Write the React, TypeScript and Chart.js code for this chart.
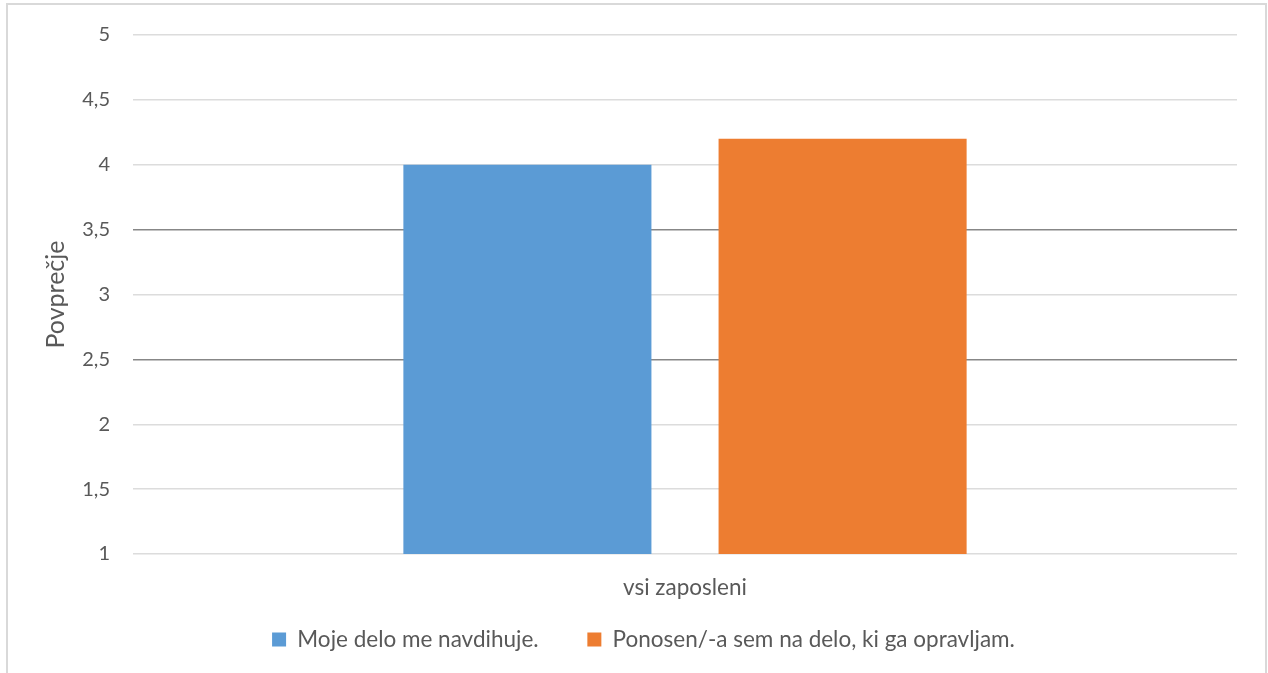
import React, { useEffect, useRef } from "react";
import { Chart, registerables } from "chart.js";

Chart.register(...registerables);

const categories = ["vsi zaposleni"];
const seriesNames = ["Moje delo me navdihuje.", "Ponosen/-a sem na delo, ki ga opravljam."];
const seriesInspired = [4.0];
const seriesProud = [4.2];
const yMin = 1;
const yMax = 5;
const yStep = 0.5;
const darkGridValues = [2.5, 3.5];
const seriesColors = ["#5B9BD5", "#ED7D31"];
const axisTitle = "Povprečje";

const FONT = "Lato, 'Open Sans', sans-serif";
const TEXT = "#595959";
const LEGEND_HEIGHT = 93.5;

const borderPlugin = {
  id: "outerBorder",
  afterDraw(chart: any) {
    const ctx = chart.ctx;
    ctx.save();
    ctx.strokeStyle = "#d9d9d9";
    ctx.lineWidth = 2;
    ctx.strokeRect(7, 4, 1259, 720);
    ctx.restore();
  },
};

const legendFitPlugin = {
  id: "legendFit",
  beforeLayout(chart: any) {
    const lg = chart.legend;
    if (lg && !lg.__patched) {
      const orig = lg.fit;
      lg.fit = function (this: any) {
        orig.call(this);
        this.height = LEGEND_HEIGHT;
      };
      lg.__patched = true;
    }
  },
};

export default function App() {
  const ref = useRef<HTMLCanvasElement | null>(null);

  useEffect(() => {
    document.body.style.margin = "0";
    const canvas = ref.current;
    if (!canvas) return;
    const chart = new Chart(canvas, {
      type: "bar",
      data: {
        labels: categories,
        datasets: [
          {
            label: seriesNames[0],
            data: seriesInspired,
            backgroundColor: seriesColors[0],
            categoryPercentage: 0.571,
            barPercentage: 0.787,
          },
          {
            label: seriesNames[1],
            data: seriesProud,
            backgroundColor: seriesColors[1],
            categoryPercentage: 0.571,
            barPercentage: 0.787,
          },
        ],
      },
      options: {
        animation: false,
        responsive: false,
        maintainAspectRatio: false,
        layout: {
          padding: { left: 50, right: 31, top: 34, bottom: 0 },
        },
        plugins: {
          tooltip: { enabled: false },
          legend: {
            position: "bottom",
            labels: {
              boxWidth: 14,
              boxHeight: 14,
              padding: 48.75,
              color: TEXT,
              font: { family: FONT, size: 22.5 },
            },
          },
        },
        scales: {
          x: {
            grid: { display: false, drawTicks: false },
            border: { display: false },
            ticks: {
              color: TEXT,
              font: { family: FONT, size: 22.5 },
              padding: 20,
            },
            afterFit: (s: any) => {
              s.height = 25.5;
              s._computeLabelArea = () => undefined;
            },
          },
          y: {
            min: yMin,
            max: yMax,
            border: { display: false },
            grid: {
              drawTicks: false,
              lineWidth: 1.5,
              color: (ctx: any) =>
                ctx.tick && darkGridValues.includes(ctx.tick.value) ? "#878787" : "#dcdcdc",
            },
            ticks: {
              stepSize: yStep,
              color: TEXT,
              font: { family: FONT, size: 20 },
              padding: 23,
              callback: (v: any) => String(v).replace(".", ","),
            },
            title: {
              display: true,
              text: axisTitle,
              color: TEXT,
              font: { family: FONT, size: 25, weight: "normal" },
              padding: { top: -9, bottom: 0 },
            },
            afterFit: (s: any) => {
              s.width = 83;
            },
          },
        },
      },
      plugins: [borderPlugin, legendFitPlugin],
    });
    chart.update();
    return () => chart.destroy();
  }, []);

  return (
    <canvas
      ref={ref}
      width={1268}
      height={673}
      style={{ display: "block", width: 1268, height: 673 }}
    />
  );
}
